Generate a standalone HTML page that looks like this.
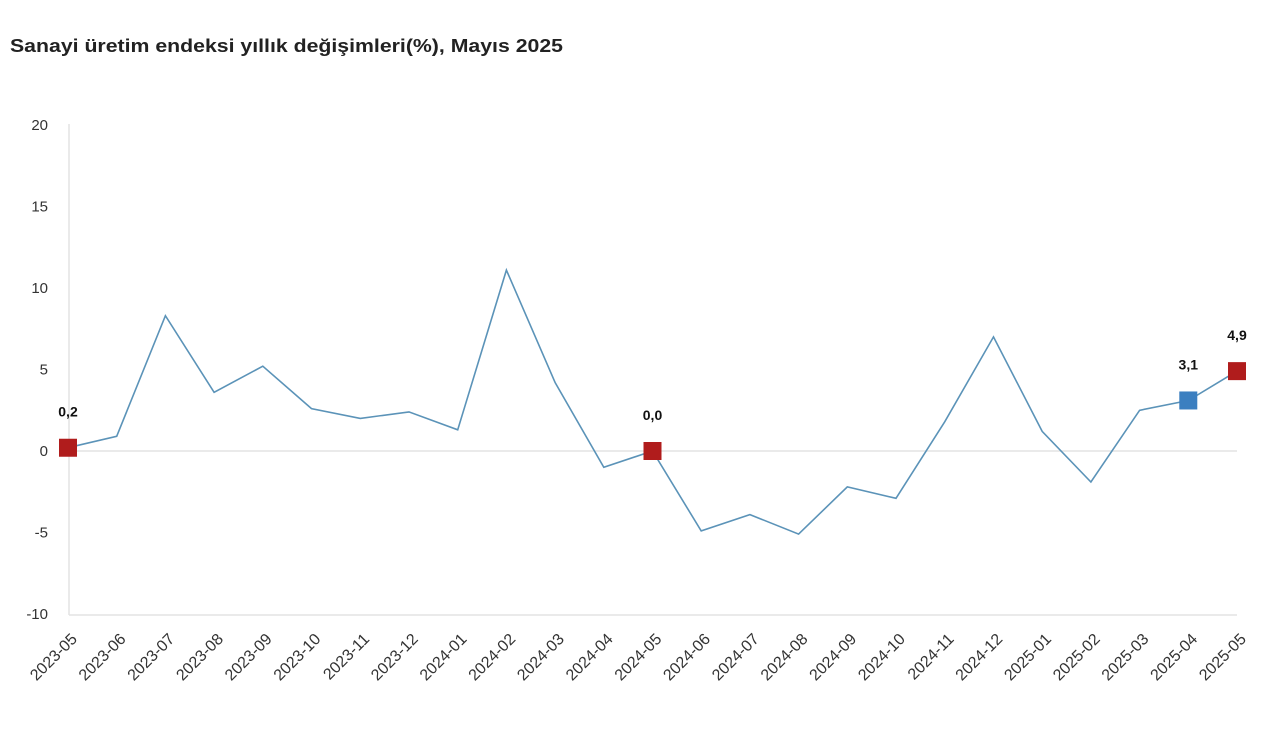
<!DOCTYPE html>
<html><head><meta charset="utf-8"><style>
body{margin:0;background:#fff;font-family:"Liberation Sans","DejaVu Sans",sans-serif}
</style></head><body>
<svg id="c" width="1280" height="747" xmlns="http://www.w3.org/2000/svg" font-family="Liberation Sans, DejaVu Sans, sans-serif">
<text x="10" y="52" font-size="18" font-weight="bold" fill="#222" textLength="553" lengthAdjust="spacingAndGlyphs">Sanayi üretim endeksi yıllık değişimleri(%), Mayıs 2025</text>
</svg>
<script>
var s=document.getElementById('c'),NS='http://www.w3.org/2000/svg';
function el(t,a,txt){var e=document.createElementNS(NS,t);for(var k in a)e.setAttribute(k,a[k]);if(txt!=null)e.textContent=txt;s.appendChild(e);return e;}
var v=[0.2,0.9,8.3,3.6,5.2,2.6,2.0,2.4,1.3,11.1,4.2,-1.0,0.0,-4.9,-3.9,-5.1,-2.2,-2.9,1.8,7.0,1.2,-1.9,2.5,3.1,4.9];
var lab=['2023-05','2023-06','2023-07','2023-08','2023-09','2023-10','2023-11','2023-12','2024-01','2024-02','2024-03','2024-04','2024-05','2024-06','2024-07','2024-08','2024-09','2024-10','2024-11','2024-12','2025-01','2025-02','2025-03','2025-04','2025-05'];
function X(i){return 68+i*(1237-68)/24}
function Y(y){return 451-y*16.3}
el('line',{x1:69,y1:124,x2:69,y2:615,stroke:'#e3e3e3','stroke-width':1.5});
el('line',{x1:69,y1:615,x2:1237,y2:615,stroke:'#e3e3e3','stroke-width':1.5});
el('line',{x1:69,y1:451,x2:1237,y2:451,stroke:'#e3e3e3','stroke-width':1.5});
[20,15,10,5,0,-5,-10].forEach(function(t){el('text',{x:48,y:Y(t)+5,'font-size':15,fill:'#333','text-anchor':'end'},t)});
var p='';v.forEach(function(y,i){p+=(i?'L':'M')+X(i).toFixed(1)+' '+Y(y).toFixed(1)});
el('path',{d:p,fill:'none',stroke:'#5b93b8','stroke-width':1.6});
lab.forEach(function(l,i){var x=X(i)+10,y=640;el('text',{x:x,y:y,'font-size':16,fill:'#333','text-anchor':'end',transform:'rotate(-45 '+x+' '+y+')'},l)});
[[0,'#b01c1c','0,2'],[12,'#b01c1c','0,0'],[23,'#3b7fc0','3,1'],[24,'#b01c1c','4,9']].forEach(function(m){
var x=X(m[0]),y=Y(v[m[0]]);el('rect',{x:x-9,y:y-9,width:18,height:18,fill:m[1]});
el('text',{x:x,y:y-31,'font-size':14,'font-weight':'bold',fill:'#111','text-anchor':'middle'},m[2]);});
</script>
</body></html>
